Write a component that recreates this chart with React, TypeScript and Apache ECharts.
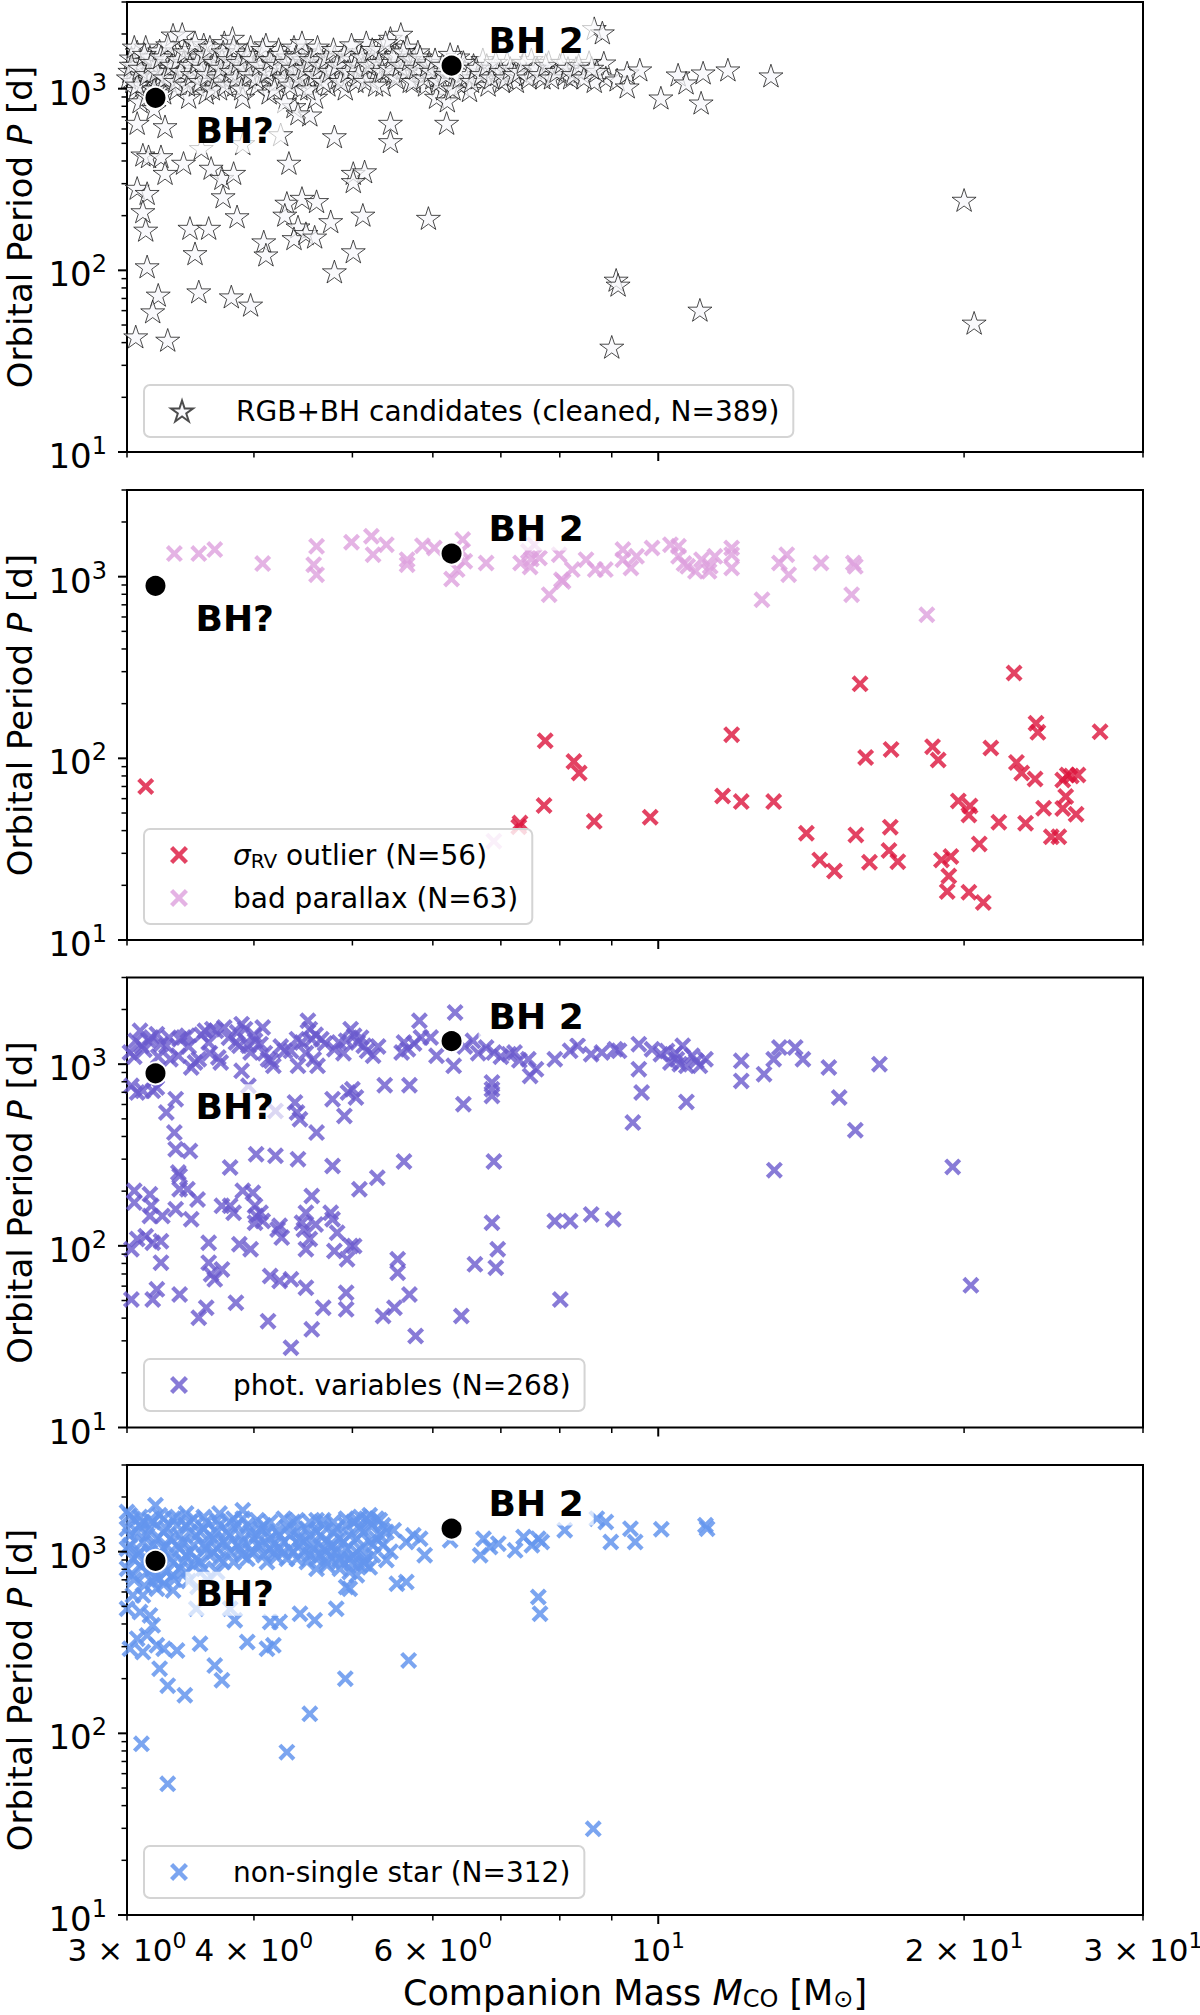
import React, { useEffect, useRef } from 'react';
import * as echarts from 'echarts';

const FONT = 'DejaVu Sans';

// ---------- axes ----------
const X_MIN = 3;
const X_MAX = 30;
const Y_MIN = 10;
const Y_MAX = 3000;
const xTickValues = [3, 4, 5, 6, 7, 8, 9, 10, 20, 30];
const xMajorTicks = [10];
const xTickLabels: Record<string, string> = {
  '3': '3 × 10{sup|0}',
  '4': '4 × 10{sup|0}',
  '6': '6 × 10{sup|0}',
  '10': '10{sup|1}',
  '20': '2 × 10{sup|1}',
  '30': '3 × 10{sup|1}',
};
const yTickValues = [10, 20, 30, 40, 50, 60, 70, 80, 90, 100, 200, 300, 400, 500, 600, 700, 800, 900, 1000, 2000, 3000];
const yMajorTicks = [10, 100, 1000];
const yTickLabels: Record<string, string> = { '10': '10{sup|1}', '100': '10{sup|2}', '1000': '10{sup|3}' };

// ---------- names ----------
const NAME_RGB = 'RGB+BH candidates (cleaned, N=389)';
const NAME_SIGMA = 'σRV outlier (N=56)';
const NAME_PARALLAX = 'bad parallax (N=63)';
const NAME_PHOT = 'phot. variables (N=268)';
const NAME_NSS = 'non-single star (N=312)';

// ---------- data: [companion mass (Msun), period (d)] ----------
const bhCandidates = [[3.2, 890], [6.26, 1340]];
const bhLabels = ['BH?', 'BH 2'];

const rgbCandidates = [
  [3.07, 647], [3.27, 620], [3.11, 433], [3.15, 424], [3.24, 424], [3.27, 343], [3.41, 390], [3.63, 366],
  [3.72, 322], [3.82, 343], [3.73, 255], [3.85, 198], [4.33, 390], [4.38, 799], [4.54, 719], [4.80, 546],
  [5.45, 647], [5.45, 513], [6.19, 647], [3.07, 284], [3.14, 266], [3.11, 211], [3.13, 167], [3.46, 171],
  [3.61, 171], [4.31, 235], [4.46, 250], [4.61, 240], [4.29, 202], [4.42, 174], [4.38, 150], [4.50, 160],
  [4.59, 153], [4.76, 186], [5.12, 202], [5.01, 343], [5.14, 350], [5.01, 309], [5.94, 194], [4.09, 144],
  [4.11, 122], [3.50, 124], [5.01, 127], [4.80, 98.5], [3.14, 105], [3.22, 73.3], [3.53, 76.4], [3.80, 71.7],
  [3.97, 64.6], [3.18, 59.3], [3.06, 43.2], [3.29, 41.4], [4.25, 560], [3.9, 500], [3.55, 470], [4.42, 730],
  [8.65, 2150], [8.81, 2036], [8.84, 1390], [8.88, 1150], [9.11, 1121], [9.32, 1225], [9.32, 1026], [9.59, 1273],
  [10.06, 892], [10.46, 1194], [10.65, 1079], [11.07, 1225], [11.02, 837], [11.71, 1273], [12.91, 1180],
  [20.0, 244], [9.09, 88.6], [9.13, 83.2], [10.99, 60.6], [20.46, 51.4], [9.0, 37.9],
  [3.02, 1250], [3.03, 1480], [3.04, 1100], [3.05, 1350], [3.06, 980], [3.07, 1600], [3.08, 1200], [3.09, 850],
  [3.10, 1420], [3.11, 1050], [3.12, 1300], [3.13, 1700], [3.14, 920], [3.15, 1150], [3.16, 1500], [3.18, 1250],
  [3.19, 780], [3.20, 1380], [3.22, 1050], [3.23, 1620], [3.25, 1200], [3.26, 950], [3.28, 1450], [3.30, 1100],
  [3.31, 1300], [3.33, 1980], [3.34, 1550], [3.36, 1000], [3.38, 1250], [3.40, 2000], [3.41, 1400], [3.43, 1150],
  [3.45, 900], [3.47, 1650], [3.49, 1300], [3.51, 1050], [3.53, 1500], [3.55, 1200], [3.57, 1750], [3.59, 950],
  [3.61, 1350], [3.63, 1100], [3.65, 1550], [3.68, 1250], [3.70, 1000], [3.72, 1450], [3.74, 1800], [3.76, 1150],
  [3.79, 1350], [3.81, 1900], [3.83, 1050], [3.85, 1600], [3.87, 1250], [3.90, 900], [3.92, 1450], [3.95, 1150],
  [3.97, 1700], [4.00, 1300], [4.03, 1050], [4.06, 1550], [4.09, 1200], [4.11, 1750], [4.14, 950], [4.17, 1400],
  [4.20, 1100], [4.23, 1650], [4.26, 1300], [4.29, 850], [4.32, 1500], [4.35, 1150], [4.38, 1700], [4.41, 1250],
  [4.44, 1000], [4.47, 1450], [4.50, 1600], [4.53, 1150], [4.57, 1350], [4.60, 900], [4.63, 1550], [4.66, 1200],
  [4.70, 1400], [4.73, 1050], [4.77, 1300], [4.80, 1500], [4.84, 1150], [4.88, 1350], [4.92, 1000], [4.96, 1250],
  [5.00, 1450], [5.04, 1100], [5.08, 1600], [5.12, 1300], [5.16, 1800], [5.20, 1150], [5.24, 1500], [5.28, 1250],
  [5.32, 1650], [5.36, 1050], [5.40, 1400], [5.45, 1900], [5.49, 1200], [5.53, 1550], [5.58, 2000], [5.62, 1300],
  [5.66, 1700], [5.70, 1100], [5.75, 1450], [5.80, 1600], [5.85, 1250], [5.90, 1050], [5.95, 1400], [6.00, 1150],
  [6.05, 900], [6.10, 1300], [6.15, 1000], [6.20, 860], [6.30, 1150], [6.35, 1500], [6.40, 1050], [6.45, 1250],
  [6.52, 980], [6.58, 1350], [6.65, 1150], [6.72, 1450], [6.80, 1050], [6.88, 1300], [6.95, 1200], [7.02, 1100],
  [7.10, 1400], [7.18, 1250], [7.25, 1100], [7.35, 1350], [7.42, 1200], [7.50, 1450], [7.60, 1300], [7.70, 1150],
  [7.80, 1400], [7.90, 1250], [8.00, 1350], [8.10, 1200], [8.20, 1150], [8.30, 1300], [8.40, 1250], [8.55, 1400],
  [8.65, 1100], [8.70, 1250],
  [3.01, 1150], [3.03, 1350], [3.05, 1700], [3.07, 1050], [3.09, 1300], [3.12, 1550], [3.14, 1200], [3.17, 1400],
  [3.19, 1000], [3.21, 1250], [3.24, 1500], [3.27, 1150], [3.29, 1750], [3.32, 1350], [3.35, 1100], [3.37, 1450],
  [3.39, 1250], [3.42, 1600], [3.44, 1050], [3.46, 1350], [3.48, 1200], [3.50, 1800], [3.52, 1400], [3.54, 1100],
  [3.56, 1300], [3.58, 1550], [3.60, 1200], [3.62, 1700], [3.64, 1000], [3.66, 1400], [3.69, 1150], [3.71, 1300],
  [3.73, 1600], [3.75, 1050], [3.78, 1450], [3.80, 1250], [3.82, 1700], [3.84, 1150], [3.86, 1400], [3.89, 1000],
  [3.91, 1300], [3.94, 1550], [3.96, 1200], [3.99, 1450], [4.02, 1150], [4.05, 1350], [4.08, 1650], [4.12, 1250],
  [4.15, 1450], [4.19, 1000], [4.22, 1350], [4.25, 1550], [4.28, 1150], [4.31, 1400], [4.34, 1050], [4.37, 1300],
  [4.40, 1500], [4.43, 1150], [4.46, 1800], [4.49, 1300], [4.52, 1000], [4.55, 1450], [4.59, 1200], [4.62, 1700],
  [4.65, 1350], [4.68, 1100], [4.72, 1500], [4.75, 1250], [4.79, 1650], [4.83, 1350], [4.87, 1100], [4.91, 1550],
  [4.95, 1250], [4.99, 1750], [5.03, 1350], [5.07, 1200], [5.11, 1500], [5.15, 1100], [5.19, 1350], [5.23, 1650],
  [5.27, 1050], [5.31, 1400], [5.35, 1250], [5.39, 1800], [5.44, 1300], [5.48, 1500], [5.52, 1150], [5.57, 1350],
  [5.61, 1600], [5.65, 1250], [5.69, 1450], [5.74, 1100], [5.78, 1300], [5.83, 1500], [5.88, 1150], [5.93, 1350],
  [5.98, 1250], [6.03, 1450], [6.08, 1100], [6.13, 1350], [6.18, 1200], [6.24, 1550], [6.28, 1000], [6.33, 1300],
  [6.38, 1150], [6.43, 1400], [6.50, 1200], [6.55, 1100], [6.62, 1300], [6.70, 1200], [6.78, 1350], [6.85, 1150],
  [6.92, 1400], [7.00, 1250], [7.08, 1150], [7.15, 1300], [7.22, 1200], [7.30, 1250], [7.38, 1400], [7.46, 1150],
  [7.55, 1300], [7.65, 1200], [7.75, 1350], [7.85, 1150], [7.95, 1250], [8.05, 1400], [8.15, 1300], [8.25, 1200],
  [8.35, 1350], [8.45, 1150], [8.60, 1300],
];

const sigmaRvOutliers = [
  [3.13, 70], [7.74, 125], [8.26, 96], [8.36, 83], [7.72, 55], [7.29, 42], [7.31, 44], [8.65, 45],
  [9.82, 47.4], [11.57, 62], [12.07, 57.8], [12.99, 57.8], [11.81, 135], [13.99, 38.7], [14.42, 27.6], [14.91, 24],
  [15.65, 37.9], [15.80, 257], [16.0, 101], [16.14, 26.8], [16.95, 112], [16.92, 41.8], [16.87, 31.1], [17.21, 27.0],
  [18.62, 116], [18.86, 98], [19.0, 27.6], [19.41, 28.8], [19.32, 22.5], [19.25, 18.5], [19.74, 58.3], [20.27, 54.7],
  [20.22, 48.8], [20.22, 18.3], [20.70, 33.8], [20.89, 16.1], [21.25, 114], [21.64, 44.5], [22.40, 295], [22.52, 95],
  [22.79, 83], [22.99, 43.9], [23.49, 77], [23.54, 156], [23.64, 139], [23.95, 53.1], [24.37, 37], [24.79, 37],
  [25.01, 76], [25.18, 61.6], [25.01, 53], [25.27, 81], [25.78, 49.2], [25.89, 81], [27.22, 140], [25.5, 80],
];

const badParallax = [
  [3.34, 1340], [3.53, 1340], [3.66, 1409], [4.08, 1180], [4.58, 1165], [4.61, 1469], [4.61, 1026], [4.99, 1547],
  [5.22, 1668], [5.24, 1322], [5.40, 1501], [5.66, 1241], [5.66, 1165], [5.86, 1482], [6.02, 1439], [6.26, 971],
  [6.34, 1094], [6.42, 1600], [6.45, 1216], [6.77, 1190], [7.32, 1190], [7.45, 1380], [7.48, 1131], [7.55, 1501],
  [7.64, 1268], [7.81, 796], [7.99, 1322], [8.03, 962], [8.06, 942], [8.23, 1094], [8.49, 1241], [8.67, 1094],
  [6.89, 35], [8.87, 1094], [9.23, 1409], [9.23, 1241], [9.40, 1116], [9.52, 1294], [9.86, 1439], [10.28, 1501],
  [10.47, 1469], [10.47, 1294], [10.69, 1140], [10.88, 1070], [11.03, 1241], [11.22, 1070], [11.25, 1140], [11.37, 1294],
  [11.81, 1439], [11.81, 1322], [11.81, 1116], [12.65, 747], [13.16, 1190], [13.38, 1322], [13.44, 1026], [14.46, 1190],
  [15.50, 796], [15.56, 1190], [15.63, 1140], [18.38, 617], [6.40, 1380], [7.50, 1250], [10.6, 1180],
];

const photVariables = [
  [3.02, 1159], [3.06, 1344], [3.09, 1526], [3.10, 1262], [3.17, 1402], [3.21, 1463], [3.24, 1289], [3.28, 1262],
  [3.31, 1065], [3.37, 1112], [3.38, 1373], [3.41, 1402], [3.44, 1432], [3.47, 959], [3.50, 1021], [3.53, 1065],
  [3.58, 1526], [3.61, 1316], [3.64, 1559], [3.67, 1526], [3.69, 1088], [3.71, 1021], [3.74, 1592], [3.84, 1316],
  [3.87, 1262], [3.89, 1661], [3.92, 1559], [3.95, 1262], [3.97, 1159], [4.01, 1344], [4.06, 1289], [4.08, 1592],
  [4.13, 1065], [4.16, 1043], [4.18, 979], [4.29, 1184], [4.35, 1184], [4.41, 1373], [4.42, 979], [4.46, 1316],
  [4.52, 1733], [4.54, 1559], [4.56, 1373], [4.58, 1065], [4.62, 979], [4.66, 1373], [4.80, 1209], [4.85, 1316],
  [4.93, 1344], [4.98, 1559], [5.02, 1432], [5.06, 1316], [5.13, 1262], [5.17, 1184], [5.24, 1112], [5.59, 1159],
  [5.62, 1316], [5.67, 1209], [5.82, 1733], [5.84, 1402], [5.97, 1402], [6.05, 1112], [6.29, 979], [6.31, 1926],
  [6.57, 1344], [6.77, 1235], [6.89, 1159], [7.13, 1135], [7.22, 1159], [7.45, 1065], [7.48, 862], [7.58, 938],
  [7.91, 1065], [8.19, 1184], [8.33, 1262], [8.59, 1135],
  [3.05, 1100], [3.12, 1200], [3.15, 1350], [3.22, 1100], [3.30, 1400], [3.45, 1250], [3.55, 1450], [3.62, 1150],
  [3.78, 1400], [3.85, 1500], [4.00, 1450], [4.10, 1150], [4.25, 1250], [4.50, 1150], [4.60, 1450], [4.70, 1300],
  [4.90, 1150], [5.10, 1400], [5.30, 1250], [5.75, 1300], [6.45, 1250], [6.65, 1150], [7.00, 1100], [7.30, 1050],
  [3.03, 760], [3.07, 698], [3.11, 713], [3.18, 713], [3.20, 844], [3.21, 744], [3.35, 642], [3.28, 542],
  [3.34, 420], [3.35, 340], [3.46, 333], [3.37, 253], [3.38, 243], [3.89, 919], [3.95, 760], [4.39, 615],
  [4.41, 542], [4.44, 498], [4.61, 420], [4.78, 642], [4.91, 519], [4.95, 698], [5.00, 728], [5.04, 655],
  [5.38, 766], [5.69, 766], [6.43, 602], [6.86, 793], [6.86, 728], [6.86, 669], [4.20, 553],
  [3.79, 270], [4.02, 319], [4.20, 313], [4.42, 300], [4.78, 275], [5.62, 291], [6.89, 291], [5.08, 205],
  [5.29, 237], [3.05, 201], [3.16, 192], [3.05, 173], [3.17, 166], [3.16, 146], [3.25, 146], [3.38, 205],
  [3.44, 205], [3.52, 180], [3.35, 159], [3.47, 140], [3.72, 166], [3.79, 166], [3.82, 152], [3.90, 201],
  [3.99, 196], [4.01, 166], [4.02, 146], [4.06, 152], [4.08, 137], [4.01, 134], [4.24, 129], [4.26, 111],
  [4.22, 123], [4.56, 188], [4.50, 152], [4.46, 134], [4.48, 123], [4.60, 131], [4.54, 109], [4.50, 95.7],
  [4.76, 152], [4.78, 140], [4.83, 118], [4.98, 99.8], [4.80, 93.6], [5.02, 99.8], [4.94, 84.3], [6.86, 134],
  [6.95, 95.7], [6.92, 75.8], [7.91, 137], [8.19, 137], [8.59, 149],
  [3.03, 95.7], [3.07, 109], [3.13, 113], [3.18, 104], [3.24, 106], [3.24, 80.8], [3.61, 80.8], [3.63, 69.7],
  [3.66, 65.4], [3.72, 74.2], [3.61, 104], [3.87, 102], [3.97, 95.7], [4.15, 68.2], [4.24, 64.0], [4.35, 65.4],
  [4.50, 58.8], [4.93, 55.2], [4.93, 44.7], [4.68, 45.6], [5.36, 41.1], [5.50, 45.6], [5.54, 84.3], [5.54, 71.1],
  [5.69, 54.0], [5.77, 31.9], [6.40, 41.1], [6.60, 79.1], [8.01, 50.7], [3.03, 50.7], [3.18, 50.7], [3.21, 57.6],
  [3.38, 54.0], [3.53, 40.2], [3.59, 45.6], [3.84, 48.6], [4.13, 38.5], [4.35, 27.5], [4.56, 34.7],
  [8.80, 1159], [9.07, 1209], [9.15, 1184], [9.57, 1289], [9.86, 1209], [10.06, 1135], [10.28, 1021], [10.43, 1065],
  [10.57, 1262], [10.66, 979], [10.80, 1112], [10.99, 979], [11.13, 1065], [9.57, 939], [9.63, 698], [10.66, 620],
  [9.44, 477], [12.07, 1043], [12.07, 809], [12.71, 881], [12.99, 1065], [13.16, 1235], [13.64, 1235], [13.88, 1065],
  [14.72, 959], [15.07, 655], [15.63, 433], [16.51, 1000], [13.01, 261], [19.49, 272], [9.03, 140], [20.31, 60.6],
  [10.2, 1180], [10.4, 1150], [10.9, 1040], [10.5, 1000],
];

const nonSingleStar = [
  [3.20, 1800], [3.90, 1689], [3.43, 1620], [3.70, 1620], [4.61, 1488], [5.09, 1552], [5.20, 1586], [5.28, 1520],
  [3.00, 1654], [3.04, 1520], [3.09, 1397], [3.14, 1230], [3.18, 1457], [3.23, 1586], [3.28, 1339], [3.33, 1520],
  [3.38, 1230], [3.43, 1397], [3.49, 1520], [3.54, 1283], [3.59, 1457], [3.65, 1179], [3.70, 1397], [3.76, 1283],
  [3.82, 1520], [3.88, 1230], [3.94, 1397], [4.00, 1179], [4.06, 1339], [4.12, 1283], [4.18, 1084], [4.24, 1230],
  [4.31, 1368], [4.37, 1457], [4.44, 1179], [4.51, 1339], [4.58, 1084], [4.65, 1230], [4.72, 1155], [4.79, 1283],
  [4.86, 1179], [4.93, 1397], [5.01, 1457], [5.09, 1339], [5.16, 1520], [5.24, 1397], [5.32, 1230], [5.40, 1283],
  [5.49, 1311],
  [3.02, 1084], [3.07, 955], [3.11, 1131], [3.16, 996], [3.26, 1039], [3.31, 915], [3.36, 1084], [3.41, 877],
  [3.46, 996], [3.51, 915], [3.57, 1084], [3.62, 955], [3.68, 1039], [3.73, 877], [3.79, 996], [3.85, 1084],
  [3.90, 955], [3.97, 996], [4.03, 1084], [4.09, 955], [4.15, 1039], [4.21, 935], [4.28, 996], [4.34, 1039],
  [4.41, 915], [4.47, 996], [4.54, 955], [4.61, 915], [4.68, 1039], [4.75, 955], [4.82, 996], [4.90, 877],
  [4.97, 915], [5.05, 996], [5.13, 877], [5.24, 955], [5.36, 1084],
  [3.00, 806], [3.04, 741], [3.09, 841], [3.14, 773], [3.18, 806], [3.23, 710], [3.28, 773], [3.33, 741],
  [3.38, 806], [3.43, 773], [3.49, 841], [3.57, 806], [3.68, 773], [4.61, 806], [4.72, 841], [4.86, 806],
  [4.97, 773], [5.09, 841], [5.05, 741], [5.14, 859],
  [5.65, 1131], [5.74, 1230], [5.83, 1179], [5.89, 955], [6.24, 1155], [6.68, 955], [6.73, 1179], [6.83, 1061],
  [6.96, 1107], [7.23, 1017], [7.37, 1204], [7.51, 1084], [7.62, 1179], [7.68, 1131], [8.09, 1311], [8.70, 1520],
  [8.88, 1457], [9.39, 1339], [8.98, 1131], [9.49, 1131], [10.07, 1328], [11.13, 1397], [11.17, 1339],
  [3.18, 681], [3.21, 625], [3.33, 612], [3.04, 575], [3.11, 575], [3.00, 485], [3.09, 465], [3.16, 446],
  [3.18, 393], [3.14, 346], [3.07, 332], [3.02, 292], [3.11, 280], [3.21, 305], [3.26, 292], [3.36, 286],
  [3.23, 227], [3.29, 183], [3.42, 162], [3.54, 311], [3.66, 236], [3.72, 196], [3.94, 318], [4.12, 292],
  [4.18, 305], [4.44, 455], [4.59, 419], [4.82, 485], [4.92, 200], [4.93, 639], [4.97, 625], [5.53, 666],
  [5.65, 681], [7.62, 563], [7.65, 455], [4.54, 128], [5.68, 252], [3.10, 87.5], [4.31, 78.8], [3.29, 52.7],
  [8.63, 29.8], [3.51, 485], [3.79, 485], [3.83, 419], [4.15, 410], [4.24, 410],
  [3.00, 1339], [3.02, 1230], [3.07, 1283], [3.11, 1457], [3.16, 1339], [3.21, 1179], [3.26, 1283], [3.31, 1179],
  [3.36, 1397], [3.41, 1131], [3.46, 1283], [3.51, 1230], [3.57, 1339], [3.62, 1230], [3.68, 1283], [3.73, 1131],
  [3.79, 1230], [3.85, 1397], [3.90, 1131], [3.97, 1283], [4.03, 1230], [4.09, 1397], [4.15, 1179], [4.21, 1283],
  [4.28, 1131], [4.34, 1230], [4.41, 1283], [4.47, 1131], [4.54, 1230], [4.61, 1283], [4.68, 1397], [4.75, 1084],
  [4.82, 1339], [4.90, 1131], [4.97, 1230], [5.05, 1179], [5.13, 1283], [5.20, 1131], [5.28, 1179], [5.36, 1397],
  [3.00, 1039], [3.04, 915], [3.09, 996], [3.14, 877], [3.18, 1084], [3.23, 955], [3.28, 1084], [3.33, 877],
  [3.38, 1039], [3.43, 955], [3.49, 1084], [3.54, 877], [3.59, 1039], [3.65, 996], [3.70, 915], [3.76, 1084],
  [3.82, 877], [3.88, 1039], [3.94, 915], [4.00, 996], [4.06, 1084], [4.12, 877], [4.18, 996], [4.24, 1039],
  [4.31, 915], [4.37, 996], [4.44, 1084], [4.51, 877], [4.58, 1039], [4.65, 955], [4.72, 996], [4.79, 1084],
  [4.86, 915], [4.93, 1039], [5.01, 955], [5.09, 1039], [5.16, 915], [5.24, 1084],
  [3.02, 1586], [3.09, 1552], [3.16, 1488], [3.26, 1520], [3.36, 1552], [3.46, 1457], [3.57, 1552], [3.68, 1488],
  [3.79, 1457], [3.90, 1520], [4.03, 1488], [4.15, 1457], [4.28, 1520], [4.41, 1488], [4.54, 1457], [4.68, 1488],
  [4.79, 1457], [4.93, 1520], [5.05, 1488], [5.20, 1457], [5.32, 1488],
  [3.05, 700], [3.12, 650], [3.20, 720], [3.26, 660], [3.34, 700], [3.45, 690], [3.52, 640], [3.60, 700],
  [4.72, 870], [4.86, 900], [5.00, 860], [5.20, 820], [5.40, 900], [5.45, 1000],
];

// ---------- styling ----------
const STAR = 'path://M0,-100L22.45,-30.9L95.11,-30.9L36.33,11.8L58.78,80.9L0,38.2L-58.78,80.9L-36.33,11.8L-95.11,-30.9L-22.45,-30.9Z';
const CROSS = 'path://M0,-29.7L55.9,-85.6L85.6,-55.9L29.7,0L85.6,55.9L55.9,85.6L0,29.7L-55.9,85.6L-85.6,55.9L-29.7,0L-85.6,-55.9L-55.9,-85.6Z';
const GRID_TOPS = [2, 490, 977.5, 1465];
const GRID_H = 450;
const GRID_LEFT = 127;
const GRID_W = 1016;
const LEGEND_TOPS = [385, 829, 1359, 1846];
const BH_LABEL_POS = [[42, 45], [39, -13]];
const X_TICK_FONT = 31;
const X_SUP_FONT = 22;

function buildOption() {
  const grids: any[] = [];
  const xAxes: any[] = [];
  const yAxes: any[] = [];
  const series: any[] = [];
  const legends: any[] = [];

  const panelSeries: any[][] = [
    [{ name: NAME_RGB, data: rgbCandidates, symbol: STAR, size: 24, style: { color: '#f7f7fb', borderColor: '#111', borderWidth: 1, opacity: 0.75 } }],
    [
      { name: NAME_PARALLAX, data: badParallax, symbol: CROSS, size: 17, style: { color: 'plum', opacity: 0.8 } },
      { name: NAME_SIGMA, data: sigmaRvOutliers, symbol: CROSS, size: 17, style: { color: 'crimson', opacity: 0.8 } },
    ],
    [{ name: NAME_PHOT, data: photVariables, symbol: CROSS, size: 17, style: { color: 'slateblue', opacity: 0.8 } }],
    [{ name: NAME_NSS, data: nonSingleStar, symbol: CROSS, size: 17, style: { color: 'cornflowerblue', opacity: 0.85 } }],
  ];
  const legendNames = [[NAME_RGB], [NAME_SIGMA, NAME_PARALLAX], [NAME_PHOT], [NAME_NSS]];

  for (let i = 0; i < 4; i++) {
    const isLast = i === 3;
    grids.push({
      left: GRID_LEFT, width: GRID_W, top: GRID_TOPS[i], height: GRID_H, show: true,
      borderColor: '#000', borderWidth: 2, backgroundColor: 'transparent',
      containLabel: false, outerBoundsMode: 'none',
    });
    xAxes.push({
      type: 'log', logBase: 10, gridIndex: i, min: X_MIN, max: X_MAX,
      axisLine: { show: false }, axisTick: { show: false }, axisLabel: { show: false }, splitLine: { show: false },
      name: isLast ? 'Companion Mass {i|M}{sub|CO} [M{sub|⊙}]' : '',
      nameLocation: 'middle', nameGap: 60,
      nameTextStyle: {
        fontSize: 35, fontFamily: FONT, color: '#000',
        rich: {
          i: { fontSize: 35, fontFamily: FONT, fontStyle: 'italic', color: '#000' },
          sub: { fontSize: 24, fontFamily: FONT, color: '#000', padding: [12, 0, 0, 0] },
        },
      },
    });
    yAxes.push({
      type: 'log', logBase: 10, gridIndex: i, min: Y_MIN, max: Y_MAX,
      axisLine: { show: false }, axisTick: { show: false }, axisLabel: { show: false }, splitLine: { show: false },
      name: 'Orbital Period {i|P} [d]', nameLocation: 'middle', nameRotate: 90, nameGap: 90,
      nameTextStyle: {
        fontSize: 34, fontFamily: FONT, color: '#000',
        rich: { i: { fontSize: 34, fontFamily: FONT, fontStyle: 'italic', color: '#000' } },
      },
    });

    for (const s of panelSeries[i]) {
      series.push({
        type: 'scatter', name: s.name, xAxisIndex: i, yAxisIndex: i, data: s.data,
        symbol: s.symbol, symbolSize: s.size, symbolKeepAspect: true,
        itemStyle: s.style, emphasis: { disabled: true }, silent: true, z: 2,
      });
    }

    series.push({
      type: 'scatter', name: 'BH' + i, xAxisIndex: i, yAxisIndex: i, z: 5, silent: true,
      symbol: 'circle', symbolSize: 22,
      itemStyle: { color: '#000', borderColor: '#fff', borderWidth: 2, opacity: 1 },
      emphasis: { disabled: true },
      data: bhCandidates.map((d, k) => ({ value: d, label: { position: BH_LABEL_POS[k] } })),
      label: {
        show: true, formatter: (p: any) => bhLabels[p.dataIndex],
        fontSize: 36, fontWeight: 'bold', fontFamily: FONT, color: '#000',
        backgroundColor: 'rgba(255,255,255,0.7)', padding: [4, 10], align: 'left', verticalAlign: 'middle',
      },
    });

    // x ticks (bottom) + labels on last panel
    series.push({
      type: 'custom', name: 'xticks' + i, xAxisIndex: i, yAxisIndex: i, silent: true, clip: false, z: 10,
      data: xTickValues.map((v) => [v, Y_MIN]),
      renderItem: (params: any, api: any) => {
        const v = api.value(0) as number;
        const p = api.coord([v, Y_MIN]);
        const major = xMajorTicks.indexOf(v) >= 0;
        const len = major ? 9 : 5.5;
        const children: any[] = [
          { type: 'line', shape: { x1: p[0], y1: p[1], x2: p[0], y2: p[1] + len }, style: { stroke: '#000', lineWidth: major ? 2 : 1.5 } },
        ];
        const lab = xTickLabels[String(v)];
        if (isLast && lab) {
          children.push({
            type: 'text', x: p[0], y: p[1] + 35,
            style: {
              text: lab, fontSize: X_TICK_FONT, fontFamily: FONT, fill: '#000', align: 'center', verticalAlign: 'middle',
              rich: { sup: { fontSize: X_SUP_FONT, fontFamily: FONT, fill: '#000', padding: [0, 0, 20, 0] } },
            },
          });
        }
        return { type: 'group', children };
      },
    });
    // y ticks (left) + labels
    series.push({
      type: 'custom', name: 'yticks' + i, xAxisIndex: i, yAxisIndex: i, silent: true, clip: false, z: 10,
      data: yTickValues.map((v) => [X_MIN, v]),
      renderItem: (params: any, api: any) => {
        const v = api.value(1) as number;
        const p = api.coord([X_MIN, v]);
        const major = yMajorTicks.indexOf(v) >= 0;
        const len = major ? 9 : 5.5;
        const children: any[] = [
          { type: 'line', shape: { x1: p[0] - len, y1: p[1], x2: p[0], y2: p[1] }, style: { stroke: '#000', lineWidth: major ? 2 : 1.5 } },
        ];
        const lab = yTickLabels[String(v)];
        if (lab) {
          children.push({
            type: 'text', x: p[0] - 20, y: p[1] + 4,
            style: {
              text: lab, fontSize: 34, fontFamily: FONT, fill: '#000', align: 'right', verticalAlign: 'middle',
              rich: { sup: { fontSize: 24, fontFamily: FONT, fill: '#000', padding: [0, 0, 20, 0] } },
            },
          });
        }
        return { type: 'group', children };
      },
    });

    legends.push({
      data: legendNames[i], left: 144, top: LEGEND_TOPS[i], orient: 'vertical',
      backgroundColor: 'rgba(255,255,255,0.8)', borderColor: '#d4d4d4', borderWidth: 2, borderRadius: 6,
      padding: [12, 14, 12, 26], itemWidth: 40, itemHeight: i === 0 ? 21 : 18, itemGap: 13,
      selectedMode: false,
      formatter: (name: string) => (name === NAME_SIGMA ? '{g| }{it|σ}{sub|RV} outlier (N=56)' : '{g| }' + name),
      textStyle: {
        fontSize: 28, fontFamily: FONT, color: '#000',
        rich: {
          g: { width: 29, fontSize: 28, fontFamily: FONT },
          it: { fontSize: 28, fontFamily: FONT, fontStyle: 'italic', color: '#000' },
          sub: { fontSize: 20, fontFamily: FONT, color: '#000', padding: [12, 0, 0, 0] },
        },
      },
    });
  }

  return {
    animation: false,
    backgroundColor: '#fff',
    grid: grids,
    xAxis: xAxes,
    yAxis: yAxes,
    legend: legends,
    series,
  };
}

export default function App() {
  const ref = useRef<HTMLDivElement>(null);
  useEffect(() => {
    document.body.style.margin = '0';
    if (!ref.current) return;
    const chart = echarts.init(ref.current, undefined, { renderer: 'svg' });
    chart.setOption(buildOption() as any);
    return () => chart.dispose();
  }, []);
  return <div ref={ref} style={{ width: 1200, height: 2015 }} />;
}
